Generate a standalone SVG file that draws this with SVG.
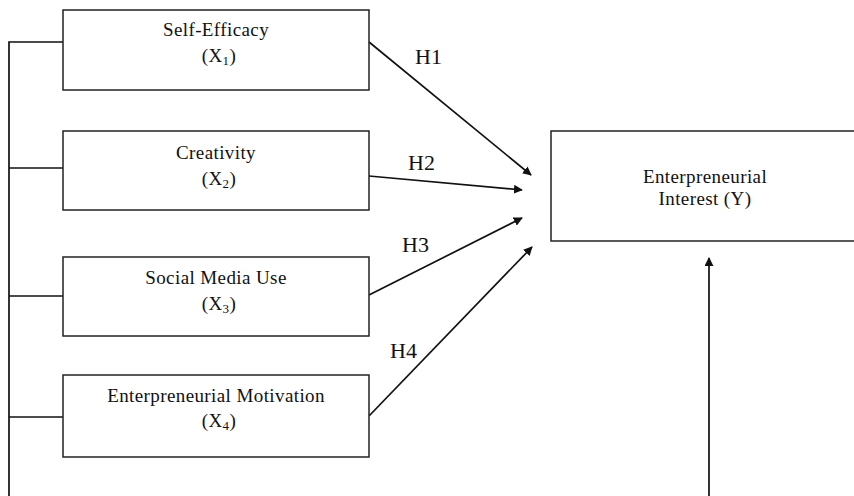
<svg xmlns="http://www.w3.org/2000/svg" width="854" height="496" viewBox="0 0 854 496">
<style>
.box{fill:#fff;stroke:#222;stroke-width:1.5}
.t{font-family:"Liberation Serif","Times New Roman",serif;font-size:19px;letter-spacing:0.4px;fill:#111;text-anchor:middle}
.h{font-family:"Liberation Serif","Times New Roman",serif;font-size:22px;fill:#111}
.c{fill:none;stroke:#111;stroke-width:1.7}
</style>
<defs>
<marker id="ah" viewBox="0 0 10 10" refX="9" refY="5" markerWidth="9" markerHeight="9" markerUnits="userSpaceOnUse" orient="auto">
<path d="M0,0 L10,5 L0,10 Z" fill="#111"/>
</marker>
</defs>
<g id="connectors">
<path class="c" d="M9,496 V42 H63"/>
<path class="c" d="M9,168 H63"/>
<path class="c" d="M9,296 H63"/>
<path class="c" d="M9,417 H63"/>
<line class="c" x1="369" y1="42" x2="531" y2="175" marker-end="url(#ah)"/>
<line class="c" x1="369" y1="176" x2="522" y2="190" marker-end="url(#ah)"/>
<line class="c" x1="369" y1="295" x2="522" y2="218" marker-end="url(#ah)"/>
<line class="c" x1="369" y1="416" x2="532" y2="247" marker-end="url(#ah)"/>
<line class="c" x1="709" y1="496" x2="709" y2="258" marker-end="url(#ah)"/>
<text class="h" x="415" y="64">H1</text>
<text class="h" x="408" y="170">H2</text>
<text class="h" x="402" y="252">H3</text>
<text class="h" x="390" y="358">H4</text>
</g>
<g id="x1">
<rect class="box" x="63" y="10" width="306" height="80"/>
<text class="t" x="216" y="36">Self-Efficacy</text>
<text class="t" x="219" y="62">(X<tspan font-size="13" dy="3">1</tspan><tspan dy="-3">)</tspan></text>
</g>
<g id="x2">
<rect class="box" x="63" y="131" width="306" height="79"/>
<text class="t" x="216" y="159">Creativity</text>
<text class="t" x="219" y="185">(X<tspan font-size="13" dy="3">2</tspan><tspan dy="-3">)</tspan></text>
</g>
<g id="x3">
<rect class="box" x="63" y="257" width="306" height="79"/>
<text class="t" x="216" y="284">Social Media Use</text>
<text class="t" x="219" y="310">(X<tspan font-size="13" dy="3">3</tspan><tspan dy="-3">)</tspan></text>
</g>
<g id="x4">
<rect class="box" x="63" y="375" width="306" height="82"/>
<text class="t" x="216" y="402">Enterpreneurial Motivation</text>
<text class="t" x="219" y="427">(X<tspan font-size="13" dy="3">4</tspan><tspan dy="-3">)</tspan></text>
</g>
<g id="y">
<rect class="box" x="551" y="131" width="310" height="110"/>
<text class="t" x="705" y="183">Enterpreneurial</text>
<text class="t" x="705" y="205">Interest (Y)</text>
</g>
</svg>
